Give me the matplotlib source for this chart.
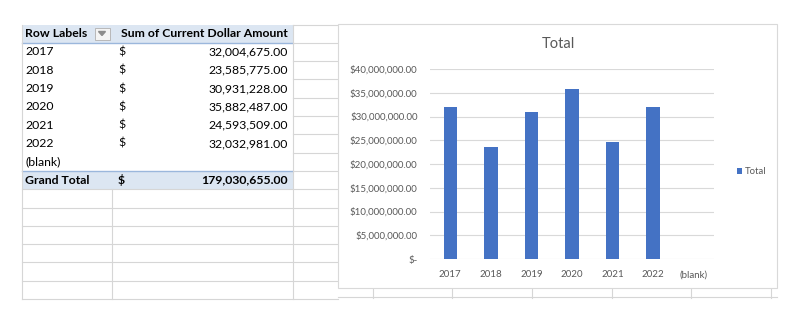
import numpy as np
import matplotlib
matplotlib.use("Agg")
import matplotlib.pyplot as plt
from matplotlib.patches import Rectangle, Polygon
from matplotlib.ticker import FuncFormatter

# Données du tableau croisé
row_labels = ["2017", "2018", "2019", "2020", "2021", "2022", "(blank)"]
amounts = [32004675.00, 23585775.00, 30931228.00, 35882487.00, 24593509.00, 32032981.00, np.nan]
grand_total = 179030655.00
header_labels = ["Row Labels", "Sum of Current Dollar Amount"]
series_name = "Total"

plt.rcParams['font.family'] = ['Lato', 'DejaVu Sans']

fig = plt.figure(figsize=(8, 3.23), dpi=100)

# Fond façon tableur, en coordonnées pixels
bg = fig.add_axes([0, 0, 1, 1], zorder=0)
bg.set_xlim(0, 800)
bg.set_ylim(323, 0)
bg.axis("off")

grid_c = "#d6d6d6"
blue_fill = "#dce6f2"
blue_line = "#9bb7dc"
top = 24.5
h = 18.3
colA, colB, colC, colD = 22, 112, 293, 338

# en-tête et grand total en bleu clair
bg.add_patch(Rectangle((colA, top), colC - colA, h, color=blue_fill, lw=0))
gt_top = top + 8 * h
bg.add_patch(Rectangle((colA, gt_top), colC - colA, h, color=blue_fill, lw=0))
bg.plot([colA, colC], [top + h, top + h], color=blue_line, lw=1)
bg.plot([colA, colC], [gt_top, gt_top], color=blue_line, lw=1)

# lignes de la grille
n_rows = 15
for i in range(n_rows + 1):
    y = top + i * h
    if i >= 9:
        bg.plot([colA, colD], [y, y], color=grid_c, lw=0.8)
    else:
        bg.plot([colC, colD], [y, y], color=grid_c, lw=0.8)
bottom = top + n_rows * h
bg.plot([colA, colA], [top, bottom], color=grid_c, lw=0.8)
bg.plot([colB, colB], [gt_top + h, bottom], color=grid_c, lw=0.8)
bg.plot([colC, colC], [top, bottom], color=grid_c, lw=0.8)
for x in [373, 452, 532, 612, 691, 771]:
    bg.plot([x, x], [285, 298], color=grid_c, lw=0.8)
bg.plot([colD, 777], [297, 297], color=grid_c, lw=0.8)

# textes du tableau
fs = 8.8
bg.text(25, top + h / 2, header_labels[0], fontsize=fs, weight="bold", va="center")
bg.add_patch(Rectangle((94.5, top + 3), 15, h - 6, facecolor="#f4f4f4", edgecolor="#b0b0b0", lw=0.6))
bg.add_patch(Polygon([[98.5, top + 7], [105.5, top + 7], [102, top + 11]], color="#8c8c8c"))
bg.text(288, top + h / 2, header_labels[1], fontsize=fs, weight="bold", va="center", ha="right")
for i, (lab, val) in enumerate(zip(row_labels, amounts)):
    y = top + (i + 1) * h + h / 2
    bg.text(25, y, lab, fontsize=fs, va="center")
    if not np.isnan(val):
        bg.text(118, y, "$", fontsize=fs, va="center")
        bg.text(288, y, f"{val:,.2f}", fontsize=fs, va="center", ha="right")
y = gt_top + h / 2
bg.text(25, y, "Grand Total", fontsize=fs, weight="bold", va="center")
bg.text(118, y, "$", fontsize=fs, weight="bold", va="center")
bg.text(288, y, f"{grand_total:,.2f}", fontsize=fs, weight="bold", va="center", ha="right")

# zone du graphique
bg.add_patch(Rectangle((colD, 24), 777 - colD, 264, facecolor="white", edgecolor="#d9d9d9", lw=0.8, zorder=3))

# Graphique à barres
ax = fig.add_axes([430 / 800, 1 - 259 / 323, 284 / 800, 190 / 323], zorder=5)
ax.patch.set_alpha(0)
x = np.arange(len(row_labels))
heights = np.nan_to_num(np.array(amounts, dtype=float))
ax.bar(x, heights, width=0.33, color="#4472c4", label=series_name, zorder=3)
ax.set_xlim(-0.5, len(row_labels) - 0.5)
ax.set_ylim(0, 40e6)
ax.set_yticks(np.arange(0, 40e6 + 1, 5e6))
ax.yaxis.set_major_formatter(FuncFormatter(lambda v, p: "$-" if v == 0 else f"${v:,.2f}"))
ax.set_xticks(x)
ax.set_xticklabels(row_labels)
ax.grid(axis="y", color="#d9d9d9", lw=0.8, zorder=0)
for s in ax.spines.values():
    s.set_visible(False)
ax.tick_params(length=0, labelsize=7, labelcolor="#595959")
ax.tick_params(axis="y", pad=9)
ax.tick_params(axis="x", pad=8)

fig.text(558 / 800, 1 - 44 / 323, series_name, fontsize=10.5, color="#595959", ha="center", va="center")
ax.legend(loc="center left", bbox_to_anchor=(732 / 800, 1 - 172 / 323), bbox_transform=fig.transFigure,
          frameon=False, fontsize=6.8, labelcolor="#595959", handlelength=0.6, handleheight=0.6,
          handletextpad=0.3, borderpad=0)

fig.savefig("out.png", dpi=100)
